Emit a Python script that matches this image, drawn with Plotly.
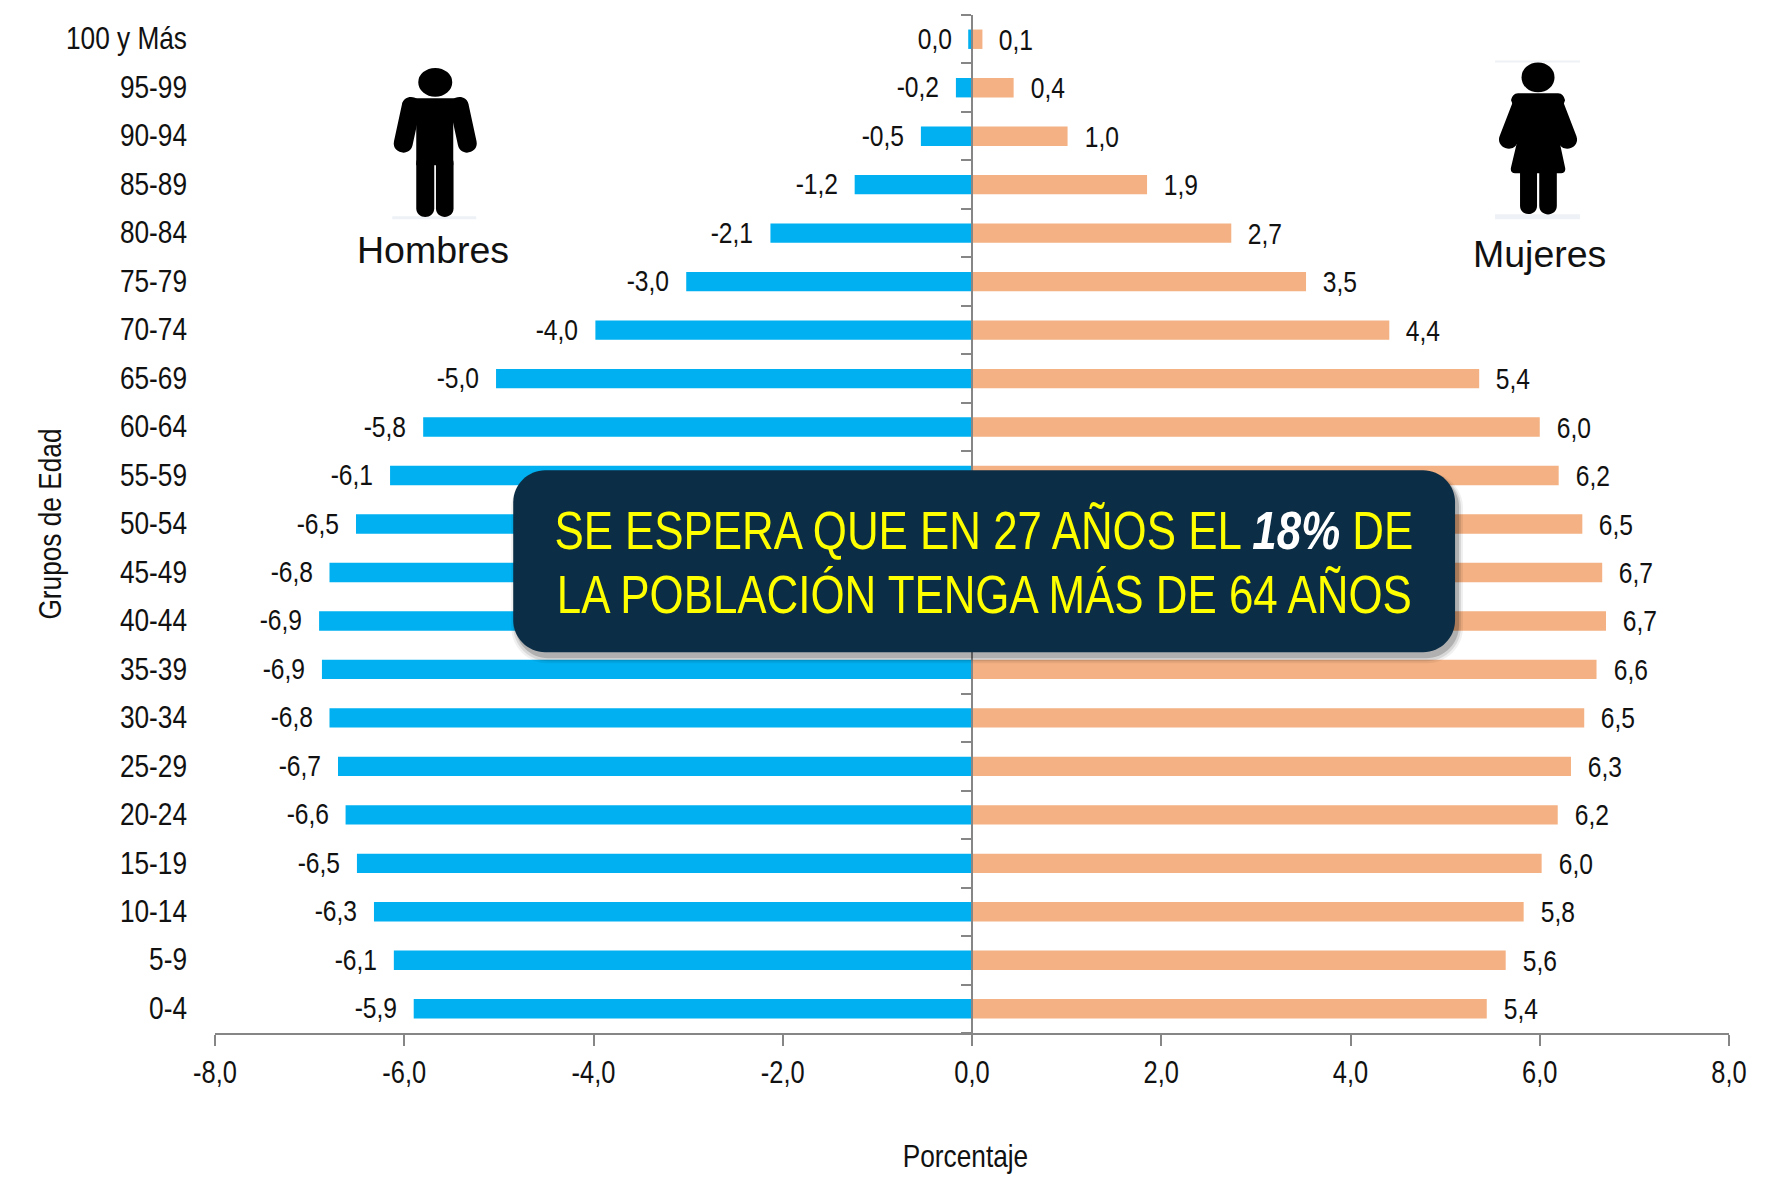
import math
import plotly.graph_objects as go

W, H = 1768, 1182
L, R, T, B = 214.7, 1729.0, 14.6, 1033.0

groups = ["0-4","5-9","10-14","15-19","20-24","25-29","30-34","35-39","40-44","45-49","50-54",
          "55-59","60-64","65-69","70-74","75-79","80-84","85-89","90-94","95-99","100 y Más"]
hombres = [-5.90,-6.11,-6.32,-6.50,-6.62,-6.70,-6.79,-6.87,-6.90,-6.79,-6.51,
           -6.15,-5.80,-5.03,-3.98,-3.02,-2.13,-1.24,-0.54,-0.17,-0.04]
mujeres = [5.44,5.64,5.83,6.02,6.19,6.33,6.47,6.60,6.70,6.66,6.45,
           6.20,6.00,5.36,4.41,3.53,2.74,1.85,1.01,0.44,0.11]
hombres_txt = ["-5,9","-6,1","-6,3","-6,5","-6,6","-6,7","-6,8","-6,9","-6,9","-6,8","-6,5",
               "-6,1","-5,8","-5,0","-4,0","-3,0","-2,1","-1,2","-0,5","-0,2","0,0"]
mujeres_txt = ["5,4","5,6","5,8","6,0","6,2","6,3","6,5","6,6","6,7","6,7","6,5",
               "6,2","6,0","5,4","4,4","3,5","2,7","1,9","1,0","0,4","0,1"]
x_ticks = [-8,-6,-4,-2,0,2,4,6,8]
x_tick_txt = ["-8,0","-6,0","-4,0","-2,0","0,0","2,0","4,0","6,0","8,0"]

# No narrow face is installed: the page's script below condenses these texts to 82 % width.
NARROW = "Liberation Sans Narrow, Liberation Sans, sans-serif"
ARIAL = "Liberation Sans, Arial, sans-serif"
GRAY = "#868686"
TXT = "#111111"

def px(x): return (x - L) / (R - L)
def py(y): return (B - y) / (B - T)

def path(cmds):
    out = []
    for c in cmds:
        if isinstance(c, str):
            out.append(c)
        else:
            out.append(f"{px(c[0]):.5f},{py(c[1]):.5f}")
    return " ".join(out)

def rrect(x0, y0, x1, y1, r):
    k = r * 0.45
    return path(["M",(x0+r,y0),"L",(x1-r,y0),"C",(x1-k,y0),(x1,y0+k),(x1,y0+r),
                 "L",(x1,y1-r),"C",(x1,y1-k),(x1-k,y1),(x1-r,y1),
                 "L",(x0+r,y1),"C",(x0+k,y1),(x0,y1-k),(x0,y1-r),
                 "L",(x0,y0+r),"C",(x0,y0+k),(x0+k,y0),(x0+r,y0),"Z"])

def pshape(d, fill="black", opacity=1):
    return dict(type="path", path=d, xref="paper", yref="paper", fillcolor=fill,
                line=dict(width=0), opacity=opacity, layer="above")

def ellipse(cx, cy, rx, ry):
    return dict(type="circle", xref="paper", yref="paper", x0=px(cx-rx), x1=px(cx+rx),
                y0=py(cy+ry), y1=py(cy-ry), fillcolor="black", line=dict(width=0), layer="above")

def limb(x0, y0, x1, y1, w):
    dx, dy = x1-x0, y1-y0
    n = math.hypot(dx, dy)
    ux, uy = dx/n, dy/n
    nx, ny = -uy*w, ux*w
    k = w*1.3
    return path(["M",(x0+nx,y0+ny),"L",(x1+nx,y1+ny),
                 "C",(x1+nx+ux*k,y1+ny+uy*k),(x1-nx+ux*k,y1-ny+uy*k),(x1-nx,y1-ny),
                 "L",(x0-nx,y0-ny),
                 "C",(x0-nx-ux*k,y0-ny-uy*k),(x0+nx-ux*k,y0+ny-uy*k),(x0+nx,y0+ny),"Z"])

def rect(x0, y0, x1, y1, fill):
    return pshape(path(["M",(x0,y0),"L",(x1,y0),"L",(x1,y1),"L",(x0,y1),"Z"]), fill=fill)

fig = go.Figure()
fig.add_trace(go.Bar(y=groups, x=hombres, orientation="h", name="Hombres",
                     marker=dict(color="#00B0F0", line=dict(width=0)), showlegend=False))
fig.add_trace(go.Bar(y=groups, x=mujeres, orientation="h", name="Mujeres",
                     marker=dict(color="#F4B183", line=dict(width=0)), showlegend=False))
fig.add_trace(go.Scatter(y=groups, x=[0]*len(groups), yaxis="y2", mode="lines",
                         line=dict(width=0), hoverinfo="skip", showlegend=False))

ann = []
for g, v, t in zip(groups, hombres, hombres_txt):
    ann.append(dict(x=v, y=g, text=t, xanchor="right", xshift=-10, yshift=1, showarrow=False,
                    font=dict(family=NARROW, size=30, color=TXT)))
for g, v, t in zip(groups, mujeres, mujeres_txt):
    ann.append(dict(x=v, y=g, text=t, xanchor="left", xshift=11, yshift=0, showarrow=False,
                    font=dict(family=NARROW, size=30, color=TXT)))

def pann(x, y, text, size, family=NARROW, color=TXT, angle=0):
    return dict(x=px(x), y=py(y), xref="paper", yref="paper", text=text, showarrow=False,
                xanchor="center", yanchor="middle", textangle=angle,
                font=dict(family=family, size=size, color=color))

ann += [
    pann(965, 1156, "Porcentaje", 32),
    pann(50, 524, "Grupos de Edad", 32, angle=-90),
    pann(433, 250, "Hombres", 37.5, family=ARIAL),
    pann(1539, 254, "Mujeres", 37.5, family=ARIAL),
    pann(984, 530, 'SE ESPERA QUE EN 27 AÑOS EL <b><i><span style="color:#FFFFFF">18%</span></i></b> DE', 53.5, color="#FFFF00"),
    pann(984, 594, "LA POBLACIÓN TENGA MÁS DE 64 AÑOS", 53.5, color="#FFFF00"),
]

shapes = [
    # soft shadow of the callout
    pshape(rrect(511, 472, 1463, 663, 36), fill="#000000", opacity=0.06),
    pshape(rrect(513, 473, 1461, 661, 35), fill="#000000", opacity=0.10),
    pshape(rrect(515, 474, 1459, 658, 33), fill="#000000", opacity=0.18),
    pshape(rrect(513, 470, 1455, 652, 32), fill="#0B2D45"),
    # Hombre
    rect(392, 216, 476, 219, "#EEF2F6"),
    ellipse(435, 82, 17, 14.5),
    pshape(path(["M",(410,98),"L",(460,98),"C",(464,98),(467,100),(468,104),
                 "L",(453,122),"L",(453,165),"L",(416,165),"L",(416,122),"L",(402,104),
                 "C",(403,100),(406,98),(410,98),"Z"])),
    pshape(limb(411, 106, 403, 143, 9.5)),
    pshape(limb(459, 106, 467, 143, 9.5)),
    pshape(limb(425, 163, 425, 208, 9)),
    pshape(limb(444.5, 163, 444.5, 208, 8.8)),
    # Mujer
    rect(1495, 60, 1580, 62, "#EEF2F6"),
    rect(1495, 214, 1580, 219, "#EEF2F6"),
    ellipse(1538, 77, 16.5, 15),
    pshape(path(["M",(1518,93),"L",(1558,93),"C",(1562,93),(1564,96),(1565,100),
                 "L",(1556,125),"L",(1565,167),"C",(1566,171),(1564,173),(1561,173),
                 "L",(1515,173),"C",(1512,173),(1510,171),(1511,167),
                 "L",(1521,125),"L",(1511,100),"C",(1512,96),(1514,93),(1518,93),"Z"])),
    pshape(limb(1522, 104, 1508.5, 139, 9.5)),
    pshape(limb(1554, 104, 1567.5, 139, 9.5)),
    pshape(limb(1528.5, 170, 1528.5, 205.5, 8.5)),
    pshape(limb(1548, 170, 1548, 205.5, 8.8)),
]

fig.update_layout(
    width=W, height=H, autosize=False,
    margin=dict(l=L, r=W-R, t=T, b=H-B, pad=0),
    paper_bgcolor="white", plot_bgcolor="white",
    barmode="overlay", bargap=0.6,
    separators=",.",
    showlegend=False,
    annotations=ann, shapes=shapes,
    font=dict(family=NARROW, size=31, color=TXT),
    xaxis=dict(range=[-8, 8], tickmode="array", tickvals=x_ticks, ticktext=x_tick_txt,
               showgrid=False, zeroline=False, showline=True, linecolor=GRAY, linewidth=2,
               ticks="outside", ticklen=11, tickwidth=1.5, tickcolor=GRAY,
               tickfont=dict(family=NARROW, size=31, color=TXT)),
    yaxis=dict(type="category", categoryorder="array", categoryarray=groups,
               range=[-0.5, 20.5],
               showgrid=False, zeroline=False, showline=False, ticks="",
               ticklabelstandoff=27, ticklabelshift=-1,
               tickfont=dict(family=NARROW, size=32, color=TXT)),
    yaxis2=dict(type="category", categoryorder="array", categoryarray=groups,
                range=[-0.5, 20.5],
                overlaying="y", anchor="free", position=0.5, side="left",
                showticklabels=False, showgrid=False, zeroline=False,
                showline=True, linecolor=GRAY, linewidth=2,
                ticks="outside", tickson="boundaries", ticklen=10, tickwidth=1.5, tickcolor=GRAY),
)

condense = """
document.body.style.margin='0';
document.body.style.overflow='hidden';
document.querySelectorAll('.js-plotly-plot svg text').forEach(function(t){
  if ((t.style.fontFamily||'').indexOf('Narrow') < 0) return;
  var n = t.getComputedTextLength();
  if (!n) return;
  if (t.children.length) {
    var cx = parseFloat(t.getAttribute('x')) || 0;
    var old = t.getAttribute('transform') || '';
    t.setAttribute('transform', old + ' translate(' + cx + ',0) scale(0.82,1) translate(' + (-cx) + ',0)');
  } else {
    t.setAttribute('textLength', (n*0.82).toFixed(2));
    t.setAttribute('lengthAdjust', 'spacingAndGlyphs');
  }
});
"""
fig.write_html("out.html", config={"displayModeBar": False}, post_script=condense)
